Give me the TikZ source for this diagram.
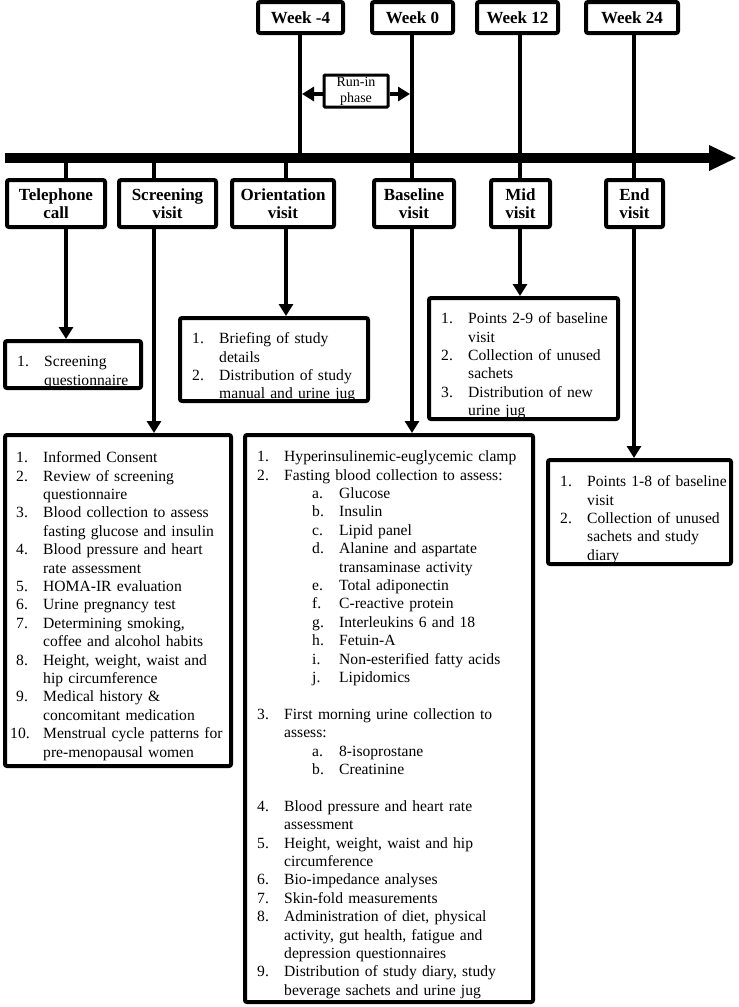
\documentclass[tikz,border=0pt]{standalone}
\usepackage{fontspec}
\setmainfont{Liberation Serif}
\usetikzlibrary{arrows.meta,calc}
\newcommand\itm[2]{\par\hangindent=27pt\hangafter=1\noindent\rule{0pt}{12pt}\makebox[27pt][l]{#1}#2}
\newcommand\itmx[2]{\par\hangindent=27pt\hangafter=1\noindent\rule{0pt}{12pt}\hspace*{-6pt}\makebox[33pt][l]{#1}#2}
\newcommand\subitm[2]{\par\hangindent=82pt\hangafter=1\noindent\rule{0pt}{12pt}\hspace*{55pt}\makebox[27pt][l]{#1}#2}
\newcommand\blankln{\par\noindent\rule{0pt}{12pt}}
\tikzset{
  hdr/.style={draw, line width=4pt, inner sep=0pt, align=center, rounded corners=2pt,
    font=\bfseries\fontsize{17}{18}\selectfont},
  box/.style={draw, line width=4pt, inner sep=0pt, rounded corners=2pt},
  lst/.style={anchor=north west, inner sep=0pt, align=left,
    font=\fontsize{15.6}{18.4}\selectfont},
  conn/.style={line width=4pt},
  arr/.style={line width=4pt, -{Triangle[length=12pt,width=14pt]}},
}
\begin{document}
\begin{tikzpicture}[x=1pt,y=-1pt]
\fill[white] (0,0) rectangle (739,1007);
\useasboundingbox (0,0) rectangle (739,1007);

% week boxes
\node[hdr, minimum width=85pt, minimum height=31pt] (wk4) at (300.5,17.5) {Week -4};
\node[hdr, minimum width=81pt, minimum height=31pt] (wk0) at (412.5,17.5) {Week 0};
\node[hdr, minimum width=81pt, minimum height=31pt] (wk12) at (517.5,17.5) {Week 12};
\node[hdr, minimum width=92pt, minimum height=31pt] (wk24) at (632,17.5) {Week 24};

% run-in
\node[draw, line width=3pt, inner sep=0pt, align=center, rounded corners=1pt,
  minimum width=64pt, minimum height=32pt, font=\fontsize{14}{16}\selectfont]
  (runin) at (356,91) {Run-in\\phase};

% visit header boxes
\node[hdr, minimum width=98pt, minimum height=47pt] (hTel) at (56,203.5) {Telephone\\call};
\node[hdr, minimum width=97pt, minimum height=47pt] (hScr) at (167.5,203.5) {Screening\\visit};
\node[hdr, minimum width=102pt, minimum height=47pt] (hOri) at (283,203.5) {Orientation\\visit};
\node[hdr, minimum width=80pt, minimum height=47pt] (hBas) at (414,203.5) {Baseline\\visit};
\node[hdr, minimum width=59pt, minimum height=47pt] (hMid) at (520.5,203.5) {Mid\\visit};
\node[hdr, minimum width=57pt, minimum height=47pt] (hEnd) at (634.5,203.5) {End\\visit};

% detail boxes
\node[box, minimum width=136pt, minimum height=47pt] (bTel) at (73,364.5) {};
\node[box, minimum width=188pt, minimum height=83pt] (bOri) at (274,359.5) {};
\node[box, minimum width=189pt, minimum height=121pt] (bMid) at (523.5,358.5) {};
\node[box, minimum width=183pt, minimum height=104pt] (bEnd) at (639.5,512) {};
\node[box, minimum width=226pt, minimum height=331pt] (bScr) at (118,600.5) {};
\node[box, minimum width=288pt, minimum height=567pt] (bBas) at (389,718.5) {};

% texts
\node[lst, text width=122pt] (tTel) at (17,348) {%
\itm{1.}{Screening\newline questionnaire}\par};
\node[lst, text width=174pt] (tOri) at (192,325) {%
\itm{1.}{Briefing of study\newline details}
\itm{2.}{Distribution of study\newline manual and urine jug}\par};
\node[lst, text width=175pt] (tMid) at (441,305) {%
\itm{1.}{Points 2-9 of baseline\newline visit}
\itm{2.}{Collection of unused\newline sachets}
\itm{3.}{Distribution of new\newline urine jug}\par};
\node[lst, text width=169pt] (tEnd) at (560,468) {%
\itm{1.}{Points 1-8 of baseline\newline visit}
\itm{2.}{Collection of unused\newline sachets and study\newline diary}\par};
\node[lst, text width=213pt] (tScr) at (16,444) {%
\itm{1.}{Informed Consent}
\itm{2.}{Review of screening\newline questionnaire}
\itm{3.}{Blood collection to assess\newline fasting glucose and insulin}
\itm{4.}{Blood pressure and heart\newline rate assessment}
\itm{5.}{HOMA-IR evaluation}
\itm{6.}{Urine pregnancy test}
\itm{7.}{Determining smoking,\newline coffee and alcohol habits}
\itm{8.}{Height, weight, waist and\newline hip circumference}
\itm{9.}{Medical history \&\newline concomitant medication}
\itmx{10.}{Menstrual cycle patterns for\newline pre-menopausal women}\par};
\node[lst, text width=274pt] (tBas) at (257,443) {%
\itm{1.}{Hyperinsulinemic-euglycemic clamp}
\itm{2.}{Fasting blood collection to assess:}
\subitm{a.}{Glucose}
\subitm{b.}{Insulin}
\subitm{c.}{Lipid panel}
\subitm{d.}{Alanine and aspartate\newline transaminase activity}
\subitm{e.}{Total adiponectin}
\subitm{f.}{C-reactive protein}
\subitm{g.}{Interleukins 6 and 18}
\subitm{h.}{Fetuin-A}
\subitm{i.}{Non-esterified fatty acids}
\subitm{j.}{Lipidomics}
\blankln
\itm{3.}{First morning urine collection to\newline assess:}
\subitm{a.}{8-isoprostane}
\subitm{b.}{Creatinine}
\blankln
\itm{4.}{Blood pressure and heart rate\newline assessment}
\itm{5.}{Height, weight, waist and hip\newline circumference}
\itm{6.}{Bio-impedance analyses}
\itm{7.}{Skin-fold measurements}
\itm{8.}{Administration of diet, physical\newline activity, gut health, fatigue and\newline depression questionnaires}
\itm{9.}{Distribution of study diary, study\newline beverage sachets and urine jug}\par};

% time axis
\coordinate (axL) at (5,158);
\coordinate (axR) at (711,158);
\coordinate (axT) at (736,158);
\draw[line width=10pt] (axL) -- (axR);
\fill ($(axR)+(-2,-13)$) -- (axT) -- ($(axR)+(-2,13)$) -- cycle;

% ticks and arrows
\coordinate (w4) at (300,158);
\foreach \n/\x in {1/66,2/154,3/286,4/412,5/520,6/634} {\coordinate (k\n) at (\x,158);}
\draw[conn] (w4 |- wk4.south) -- (w4);
\draw[conn] (k4 |- wk0.south) -- (k4);
\draw[conn] (k5 |- wk12.south) -- (k5);
\draw[conn] (k6 |- wk24.south) -- (k6);

\draw[conn] (k1) -- (k1 |- hTel.north);
\draw[conn] (k2) -- (k2 |- hScr.north);
\draw[conn] (k3) -- (k3 |- hOri.north);
\draw[conn] (k4) -- (k4 |- hBas.north);
\draw[conn] (k5) -- (k5 |- hMid.north);
\draw[conn] (k6) -- (k6 |- hEnd.north);

\draw[arr] (k1 |- hTel.south) -- (k1 |- bTel.north);
\draw[arr] (k2 |- hScr.south) -- (k2 |- bScr.north);
\draw[arr] (k3 |- hOri.south) -- (k3 |- bOri.north);
\draw[arr] (k4 |- hBas.south) -- (k4 |- bBas.north);
\draw[arr] (k5 |- hMid.south) -- (k5 |- bMid.north);
\draw[arr] (k6 |- hEnd.south) -- (k6 |- bEnd.north);

% run-in arrows
\coordinate (rl) at (302,94);
\coordinate (rr) at (410,94);
\draw[arr] (runin.west |- rl) -- (rl);
\draw[arr] (runin.east |- rr) -- (rr);
\end{tikzpicture}
\end{document}
